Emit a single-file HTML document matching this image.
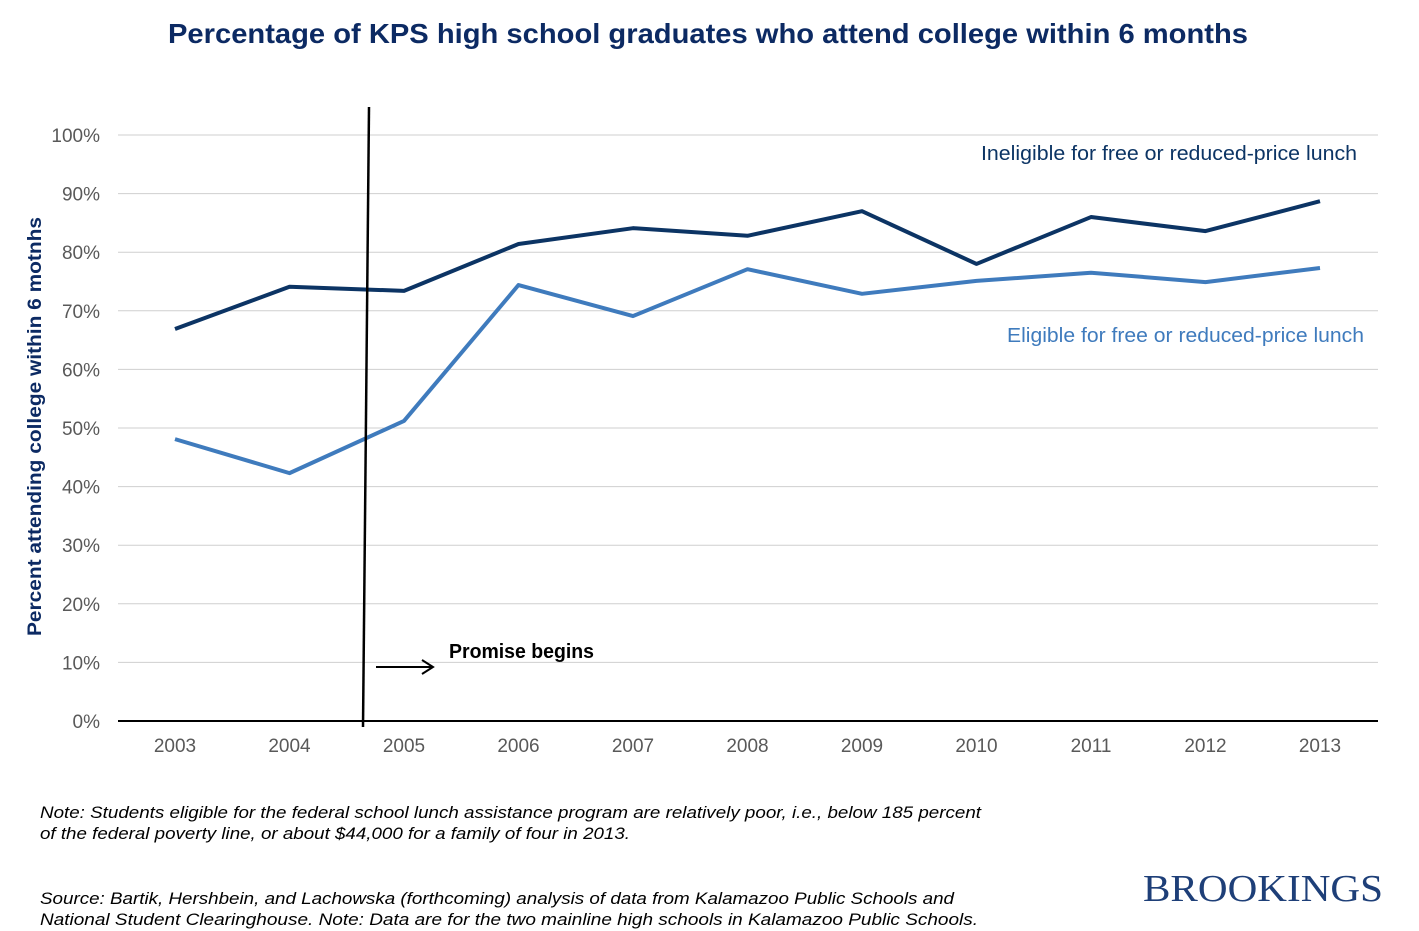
<!DOCTYPE html>
<html><head><meta charset="utf-8"><style>
body{margin:0;background:#fff;width:1419px;height:931px;overflow:hidden;font-family:"Liberation Sans",sans-serif}
svg{position:absolute;left:0;top:0}
</style></head><body>
<svg width="1419" height="931" id="chart">
<text x="168" y="43" textLength="1080" lengthAdjust="spacingAndGlyphs" font-size="28" font-weight="bold" fill="#0c2a63">Percentage of KPS high school graduates who attend college within 6 months</text>
<g id="grid"></g><g id="series"></g>
<text transform="translate(41,636) rotate(-90)" textLength="419" lengthAdjust="spacingAndGlyphs" font-size="19" font-weight="bold" fill="#0c2a63">Percent attending college within 6 motnhs</text>
<line x1="369" y1="107" x2="363" y2="727" stroke="#000" stroke-width="2.5"/>
<g><line x1="376" y1="667" x2="432" y2="667" stroke="#000" stroke-width="2"/><polyline points="422,660 433,667 422,674" fill="none" stroke="#000" stroke-width="2"/></g>
<text x="449" y="658" textLength="145" lengthAdjust="spacingAndGlyphs" font-size="20" font-weight="bold" fill="#000">Promise begins</text>
<text x="981" y="160" textLength="376" lengthAdjust="spacingAndGlyphs" font-size="20" fill="#0c3464">Ineligible for free or reduced-price lunch</text>
<text x="1007" y="342" textLength="357" lengthAdjust="spacingAndGlyphs" font-size="20" fill="#3f7bbd">Eligible for free or reduced-price lunch</text>
<text font-size="17" font-style="italic" fill="#000"><tspan x="40" y="818" textLength="941" lengthAdjust="spacingAndGlyphs">Note: Students eligible for the federal school lunch assistance program are relatively poor, i.e., below 185 percent</tspan><tspan x="40" y="839" textLength="590" lengthAdjust="spacingAndGlyphs">of the federal poverty line, or about $44,000 for a family of four in 2013.</tspan></text>
<text font-size="17" font-style="italic" fill="#000"><tspan x="40" y="904" textLength="914" lengthAdjust="spacingAndGlyphs">Source: Bartik, Hershbein, and Lachowska (forthcoming) analysis of data from Kalamazoo Public Schools and</tspan><tspan x="40" y="925" textLength="938" lengthAdjust="spacingAndGlyphs">National Student  Clearinghouse.  Note: Data are for the two mainline high schools in Kalamazoo Public Schools.</tspan></text>
<text x="1143" y="901" textLength="240" lengthAdjust="spacingAndGlyphs" font-family="Liberation Serif,serif" font-size="38" fill="#1e3f78">BROOKINGS</text>
</svg>
<script>
const years=["2003","2004","2005","2006","2007","2008","2009","2010","2011","2012","2013"];
const ineligible=[66.9,74.1,73.4,81.4,84.1,82.8,87.0,78.0,86.0,83.6,88.7];
const eligible=[48.1,42.3,51.2,74.4,69.1,77.1,72.9,75.1,76.5,74.9,77.3];
const yTicks=[0,10,20,30,40,50,60,70,80,90,100];
const NS="http://www.w3.org/2000/svg";
const xs=i=>175+i*114.5, ys=v=>721-v*5.86;
const grid=document.getElementById('grid'), ser=document.getElementById('series');
function mk(t,a,p){const e=document.createElementNS(NS,t);for(const k in a)e.setAttribute(k,a[k]);p.appendChild(e);return e;}
yTicks.forEach(v=>{
 const l=mk('line',{x1:118,x2:1378,y1:ys(v),y2:ys(v),stroke:v?'#cfcfcf':'#000','stroke-width':v?1:2},grid);
 
 
 const t=mk('text',{x:100,y:ys(v)+7,'text-anchor':'end','font-size':19,fill:'#595959'},grid);t.textContent=v+'%';
 
 
});
years.forEach((y,i)=>{
 const t=mk('text',{x:xs(i),y:752,'text-anchor':'middle','font-size':19,fill:'#595959'},grid);t.textContent=y;
 
 
});
[[ineligible,'#0c3464','ineligible-line'],[eligible,'#3f7bbd','eligible-line']].forEach(([d,c,n])=>{
 const p=mk('polyline',{points:d.map((v,i)=>xs(i)+','+ys(v)).join(' '),fill:'none',stroke:c,'stroke-width':4,'stroke-linejoin':'round'},ser);
 
 
});
</script>
</body></html>
